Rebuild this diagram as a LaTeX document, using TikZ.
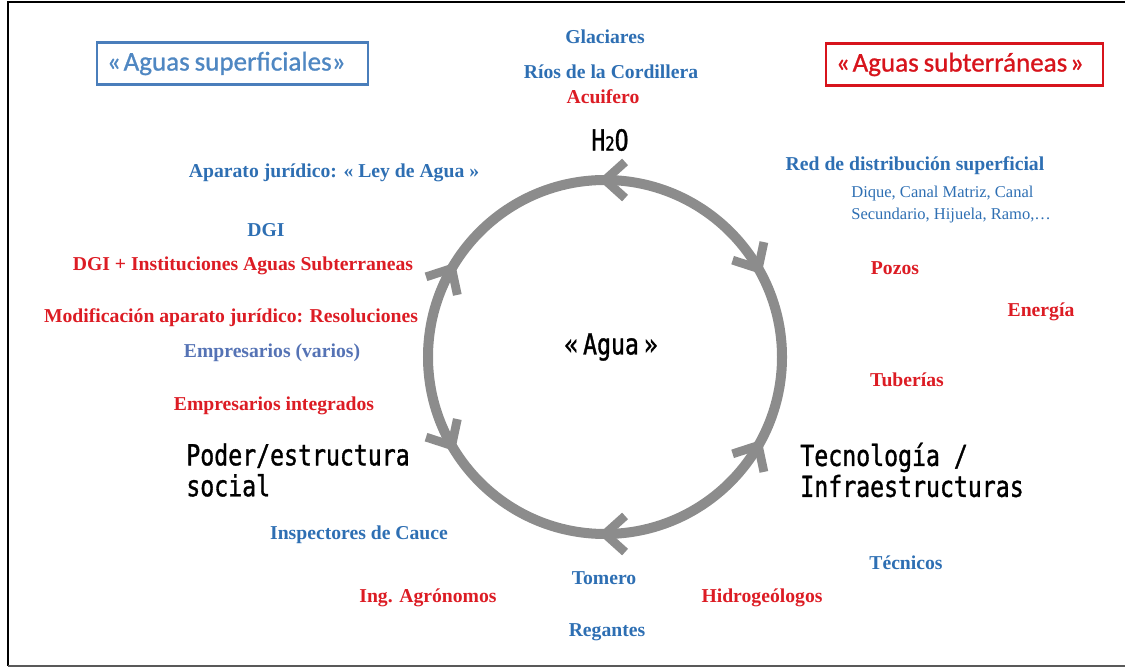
\documentclass[tikz,border=0pt]{standalone}
\usepackage{fontspec}
\setmainfont{Liberation Serif}
\newfontfamily\calfont[FakeBold=0.9]{Carlito}
\newfontfamily\heifont[FakeStretch=0.8, FakeBold=1.2]{DejaVu Sans Mono}
\usetikzlibrary{calc}

\definecolor{surfblue}{HTML}{2E6FB3}
\definecolor{slateblue}{HTML}{5573B5}
\definecolor{groundred}{HTML}{DC1C24}
\definecolor{boxblue}{HTML}{4A7EBB}
\definecolor{boxbluetext}{HTML}{4F87C2}
\definecolor{boxred}{HTML}{D7141C}
\definecolor{ringgray}{HTML}{8C8C8C}

\begin{document}
\begin{tikzpicture}[
    x=0.02cm, y=0.02cm,
    surf/.style={font=\fontsize{11.2}{13}\selectfont\bfseries, text=surfblue, inner sep=0pt},
    ground/.style={font=\fontsize{11.2}{13}\selectfont\bfseries, text=groundred, inner sep=0pt},
    pole/.style={font=\fontsize{16.5}{17.6}\selectfont\heifont, align=left, inner sep=0pt},
    water box/.style={draw, line width=1.4pt, font=\fontsize{15.4}{16}\selectfont\calfont, align=left, inner xsep=0.2cm, inner ysep=0pt, minimum height=0.84cm},
    ring/.style={draw=ringgray, line width=5.7pt},
    chevron/.style={draw=ringgray, line width=5pt, line join=miter}
]
\useasboundingbox (0,0) rectangle (1125,-668);

% Frame
\draw[line width=1.1pt] (1125,-2) -- (8,-2) -- (8,-666);
\draw[line width=1.1pt, black!65] (8,-666) -- (1125,-666);

% Cycle
\coordinate (ring) at (605,-357);
\draw[ring] (ring) circle[radius=177];
\foreach \ang/\back in {90/0, 30/120, -30/240, -90/0, 210/120, 150/240}
    \draw[chevron] ($(ring)+(\ang:177)+(\back-42:27)$) -- ($(ring)+(\ang:177)$) -- ($(ring)+(\ang:177)+(\back+42:27)$);

% Poles
\node[pole] (h2o) at (610,-140) {H{\fontsize{11}{11}\selectfont 2}O};
\node[pole] (agua) at (611,-347) {«\,Agua\,»};
\node[pole, anchor=west] (poder) at (186,-470) {Poder/estructura\\social};
\node[pole, anchor=west] (tecno) at (800,-470) {Tecnología /\\Infraestructuras};

% Boxes
\node[water box, draw=boxblue, text=boxbluetext, text width=5.02cm] (superf) at (232.5,-63.5) {«\hspace{0.1em}Aguas\hspace{0.18em}superficiales»};
\node[water box, draw=boxred, text=boxred, text width=5.14cm] (subter) at (964.5,-64.5) {«\hspace{0.1em}Aguas\hspace{0.18em}subterráneas\hspace{0.1em}»};

% Water sources
\node[surf] (glaciares) at (605,-37) {Glaciares};
\node[surf] (rios) at (611,-72) {Ríos de la Cordillera};
\node[ground] (acuifero) at (603,-97) {Acuifero};

% Infrastructure
\node[surf] (red) at (915,-166) {Red de distribución superficial};
\node[surf, font=\fontsize{9.4}{12.5}\selectfont, align=left, anchor=north west] (canales) at (851,-186) {Dique, Canal Matriz, Canal\\Secundario, Hijuela, Ramo,\dots};
\node[ground] (pozos) at (895,-268) {Pozos};
\node[ground] (energia) at (1041,-312) {Energía};
\node[ground] (tuberias) at (907,-380) {Tuberías};

% Actors
\node[surf] (tecnicos) at (906,-563) {Técnicos};
\node[ground] (hidro) at (762,-598) {Hidrogeólogos};
\node[surf] (tomero) at (604,-578) {Tomero};
\node[surf] (regantes) at (607,-632) {Regantes};
\node[ground] (agronomos) at (428,-598) {Ing. Agrónomos};
\node[surf] (inspectores) at (359,-535) {Inspectores de Cauce};

% Institutions
\node[ground] (emp_int) at (274,-406) {Empresarios integrados};
\node[surf, text=slateblue] (emp_varios) at (272,-353) {Empresarios (varios)};
\node[ground] (modif) at (231,-318) {Modificación aparato jurídico: Resoluciones};
\node[ground] (dgi_inst) at (243,-266) {DGI + Instituciones Aguas Subterraneas};
\node[surf] (dgi) at (266,-230) {DGI};
\node[surf] (ley) at (334,-173) {Aparato jurídico: « Ley de Agua »};

\end{tikzpicture}
\end{document}
